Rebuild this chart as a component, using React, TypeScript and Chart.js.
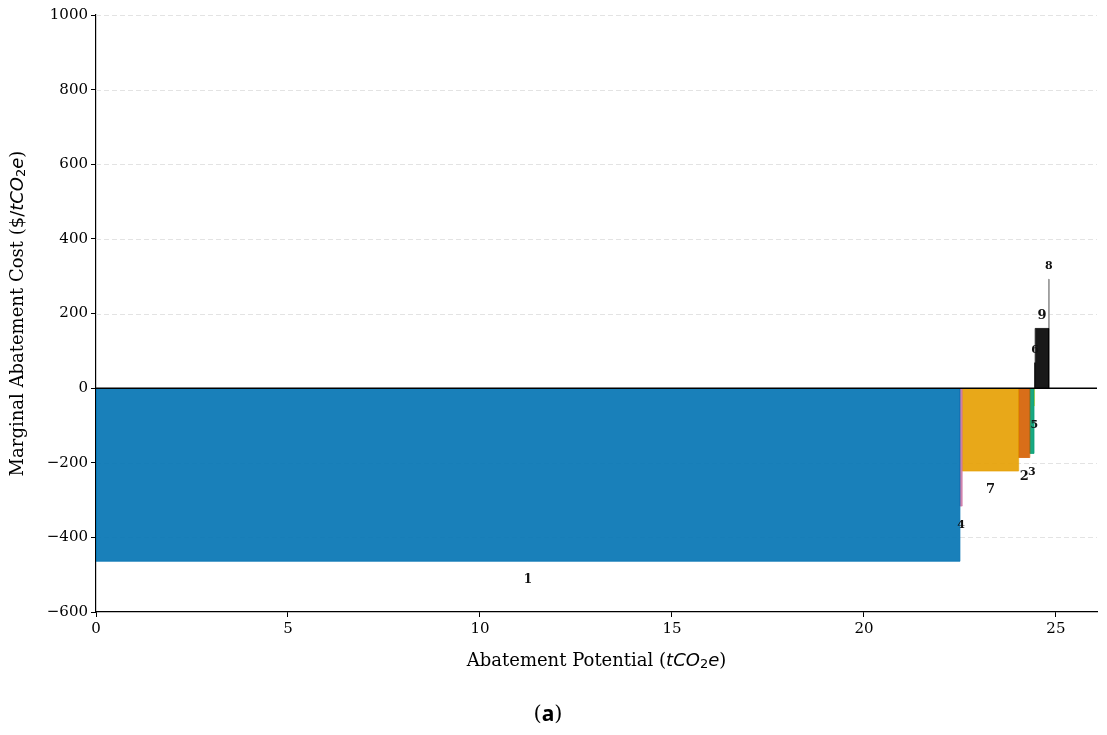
import { useEffect, useRef } from 'react';
import { Chart, registerables } from 'chart.js';

Chart.register(...registerables);

// Measures ordered by marginal abatement cost (ascending)
const measureIds = ['1', '4', '7', '2', '3', '5', '6', '9', '8'];
const potentials = [22.5, 0.06, 1.47, 0.29, 0.11, 0.02, 0.01, 0.35, 0.01]; // tCO2e
const costs = [-464, -316, -222, -186, -175, -48, 68, 160, 292]; // $/tCO2e
const yTicks = [-600, -400, -200, 0, 200, 400, 600, 800, 1000];
const xTicks = [0, 5, 10, 15, 20, 25];
const xMax = 26.07;

const palette: Record<string, string> = {
  '1': '#0072B2',
  '2': '#D55E00',
  '3': '#009E73',
  '4': '#CC79A7',
  '5': '#F0E442',
  '6': '#111111',
  '7': '#E69F00',
  '8': '#999999',
  '9': '#000000',
};
const labelSize: Record<string, number> = {
  '1': 12, '2': 13, '3': 11, '4': 11, '5': 11, '6': 11, '7': 13, '8': 11, '9': 13,
};

function hexA(hex: string, a: number) {
  const r = parseInt(hex.slice(1, 3), 16);
  const g = parseInt(hex.slice(3, 5), 16);
  const b = parseInt(hex.slice(5, 7), 16);
  return `rgba(${r},${g},${b},${a})`;
}

type Seg = { t: string; font: string; dy?: number };
function drawRich(ctx: CanvasRenderingContext2D, segs: Seg[], cx: number, cy: number) {
  let total = 0;
  const widths = segs.map((s) => {
    ctx.font = s.font;
    const w = ctx.measureText(s.t).width;
    total += w;
    return w;
  });
  let x = cx - total / 2;
  ctx.textAlign = 'left';
  ctx.textBaseline = 'middle';
  segs.forEach((s, i) => {
    ctx.font = s.font;
    ctx.fillText(s.t, x, cy + (s.dy || 0));
    x += widths[i];
  });
}

const F = 18;
const titleSegs = (prefix: string): Seg[] => [
  { t: prefix, font: `${F}px "DejaVu Serif"` },
  ...(prefix.includes('Cost') ? [{ t: '$/', font: `${F}px "DejaVu Sans"` }] : []),
  { t: 'tCO', font: `oblique ${F}px "DejaVu Sans"` },
  { t: '2', font: `${Math.round(F * 0.7)}px "DejaVu Sans"`, dy: 4 },
  { t: 'e', font: `oblique ${F}px "DejaVu Sans"` },
  { t: ')', font: `${F}px "DejaVu Serif"` },
];

const decorPlugin = {
  id: 'decor',
  beforeDatasetsDraw(chart: any) {
    const { ctx, chartArea, scales } = chart;
    ctx.save();
    ctx.strokeStyle = '#e3e3e3';
    ctx.lineWidth = 1;
    ctx.setLineDash([5, 3]);
    yTicks.forEach((v) => {
      if (v === 0 || v === -600) return;
      const y = Math.round(scales.y.getPixelForValue(v)) + 0.5;
      ctx.beginPath();
      ctx.moveTo(chartArea.left, y);
      ctx.lineTo(chartArea.right, y);
      ctx.stroke();
    });
    ctx.restore();
  },
  afterDatasetsDraw(chart: any) {
    const { ctx, chartArea, scales } = chart;
    ctx.save();
    // zero line
    const y0 = scales.y.getPixelForValue(0);
    ctx.strokeStyle = '#000';
    ctx.lineWidth = 1.5;
    ctx.beginPath();
    ctx.moveTo(chartArea.left, y0);
    ctx.lineTo(chartArea.right, y0);
    ctx.stroke();

    // measure labels
    let cum = 0;
    ctx.fillStyle = '#111';
    ctx.textAlign = 'center';
    ctx.textBaseline = 'middle';
    measureIds.forEach((id, i) => {
      const x0 = cum;
      const x1 = cum + potentials[i];
      cum = x1;
      const cx = scales.x.getPixelForValue((x0 + x1) / 2);
      const py = scales.y.getPixelForValue(costs[i]);
      const ly = costs[i] < 0 ? py + 19 : py - 13;
      ctx.font = `bold ${labelSize[id]}px "DejaVu Serif"`;
      ctx.fillText(id, cx, ly);
    });

    // axis titles
    ctx.fillStyle = '#000';
    drawRich(ctx, titleSegs('Abatement Potential ('), (chartArea.left + chartArea.right) / 2, 661);
    ctx.save();
    ctx.translate(18, (chartArea.top + chartArea.bottom) / 2);
    ctx.rotate(-Math.PI / 2);
    drawRich(ctx, titleSegs('Marginal Abatement Cost ('), 0, 0);
    ctx.restore();

    // panel label
    drawRich(
      ctx,
      [
        { t: '(', font: '21px "DejaVu Serif"' },
        { t: 'a', font: 'bold 21px "Noto Sans"' },
        { t: ')', font: '21px "DejaVu Serif"' },
      ],
      548,
      715
    );
    ctx.restore();
  },
};

export default function App() {
  const ref = useRef<HTMLCanvasElement | null>(null);

  useEffect(() => {
    document.body.style.margin = '0';
    const canvas = ref.current;
    if (!canvas) return;

    let cum = 0;
    const datasets = measureIds.map((id, i) => {
      const x0 = cum;
      const x1 = cum + potentials[i];
      cum = x1;
      const c = palette[id];
      return {
        label: id,
        data: [
          { x: x0, y: 0 },
          { x: x0, y: costs[i] },
          { x: x1, y: costs[i] },
          { x: x1, y: 0 },
        ],
        showLine: true,
        fill: 'origin',
        backgroundColor: hexA(c, 0.9),
        borderColor: hexA(c, 0.95),
        borderWidth: 0.8,
        pointRadius: 0,
        pointHoverRadius: 0,
        tension: 0,
      };
    });

    const chart = new Chart(canvas, {
      type: 'scatter',
      data: { datasets: datasets as any },
      plugins: [decorPlugin],
      options: {
        animation: false,
        responsive: false,
        devicePixelRatio: 1,
        events: [],
        layout: { padding: { left: 0, top: 15, right: 10, bottom: 0 } },
        plugins: {
          legend: { display: false },
          tooltip: { enabled: false },
        },
        scales: {
          x: {
            type: 'linear',
            min: 0,
            max: xMax,
            afterFit: (s: any) => {
              s.height = 123;
            },
            afterBuildTicks: (s: any) => {
              s.ticks = xTicks.map((v) => ({ value: v }));
            },
            ticks: {
              font: { family: 'DejaVu Serif', size: 15 },
              color: '#000',
              padding: 3,
              maxRotation: 0,
              autoSkip: false,
              callback: (v: any) => String(v),
            },
            grid: {
              drawOnChartArea: false,
              drawTicks: true,
              tickLength: 5,
              tickColor: '#000',
              tickWidth: 1,
            },
            border: { display: true, color: '#000', width: 1.2 },
          },
          y: {
            type: 'linear',
            min: -600,
            max: 1000,
            afterFit: (s: any) => {
              s.width = 96;
            },
            afterBuildTicks: (s: any) => {
              s.ticks = yTicks.map((v) => ({ value: v }));
            },
            ticks: {
              font: { family: 'DejaVu Serif', size: 15 },
              color: '#000',
              padding: 3,
              autoSkip: false,
              callback: (v: any) => (v < 0 ? '\u2212' + Math.abs(v) : String(v)),
            },
            grid: {
              drawOnChartArea: false,
              drawTicks: true,
              tickLength: 5,
              tickColor: '#000',
              tickWidth: 1,
            },
            border: { display: true, color: '#000', width: 1.2 },
          },
        },
      },
    });

    return () => chart.destroy();
  }, []);

  return (
    <div style={{ width: 1107, height: 735, background: '#fff' }}>
      <canvas ref={ref} width={1107} height={735} style={{ display: 'block' }} />
    </div>
  );
}
